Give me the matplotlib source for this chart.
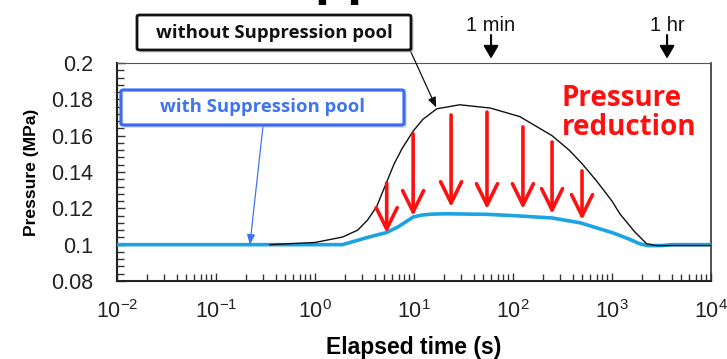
import matplotlib
matplotlib.use("Agg")
import matplotlib.pyplot as plt
from matplotlib.ticker import FixedLocator, FixedFormatter, MultipleLocator, LogLocator, NullFormatter, LogFormatterSciNotation
from matplotlib.patches import FancyBboxPatch

plt.rcParams['font.family'] = ['Liberation Sans', 'DejaVu Sans']
plt.rcParams['mathtext.fontset'] = 'custom'
plt.rcParams['mathtext.rm'] = 'Liberation Sans'
plt.rcParams['mathtext.it'] = 'Liberation Sans'
plt.rcParams['mathtext.bf'] = 'Liberation Sans:bold'

# ---- data ----
t_without = [0.35, 1.0, 1.9, 2.7, 3.4, 4.2, 5.3, 6.3, 7.6, 9.8, 12.3, 17, 29, 59, 117, 248, 370, 500, 700, 1000, 1200, 1700, 2240, 2800, 10000]
p_without = [0.100, 0.1012, 0.1042, 0.108, 0.1136, 0.121, 0.1345, 0.1445, 0.153, 0.1625, 0.169, 0.1748, 0.177, 0.1752, 0.1705, 0.160, 0.152, 0.1445, 0.135, 0.124, 0.117, 0.107, 0.1005, 0.0995, 0.0995]

t_with = [0.01, 0.1, 1.0, 1.9, 3.4, 5.3, 7, 8.5, 9.8, 12, 15, 21, 54, 100, 248, 480, 1020, 1500, 1900, 2300, 3200, 4000, 10000]
p_with = [0.100, 0.100, 0.100, 0.100, 0.104, 0.1067, 0.110, 0.113, 0.1152, 0.1163, 0.1168, 0.117, 0.1167, 0.116, 0.1147, 0.112, 0.1065, 0.103, 0.1005, 0.0995, 0.0995, 0.100, 0.100]

arrow_t = [5.3, 9.8, 23.7, 54.6, 126, 248, 498]
arrow_top = [0.134, 0.161, 0.1714, 0.173, 0.1648, 0.1565, 0.1406]
arrow_bottom = [0.1064, 0.1158, 0.1207, 0.1196, 0.1196, 0.1169, 0.1136]

marker_times = [60, 3600]
marker_labels = ['1 min', '1 hr']

x_ticks = [1e-2, 1e-1, 1e0, 1e1, 1e2, 1e3, 1e4]
y_ticks = [0.08, 0.10, 0.12, 0.14, 0.16, 0.18, 0.20]
y_ticklabels = ['0.08', '0.1', '0.12', '0.14', '0.16', '0.18', '0.2']

W, H = 727, 359
fig = plt.figure(figsize=(W / 100, H / 100), dpi=100)
fig.patch.set_facecolor('white')

def fx(px):
    return px / W

def fy(py):
    return 1 - py / H

ax = fig.add_axes([fx(117), fy(281), fx(711) - fx(117), fy(63) - fy(281)])
ax.set_xscale('log')
ax.set_xlim(1e-2, 1e4)
ax.set_ylim(0.08, 0.2)

ax.plot(t_with, p_with, color='#1ca3e3', lw=2.6, zorder=3, solid_capstyle='butt')
ax.plot(t_without, p_without, color='#111111', lw=1.0, zorder=4)

for t, top, bot in zip(arrow_t, arrow_top, arrow_bottom):
    ax.annotate('', xy=(t, bot), xytext=(t, top),
                arrowprops=dict(arrowstyle='->,head_length=0.85,head_width=0.42',
                                color='#ff1010', lw=2.6, shrinkA=0, shrinkB=0,
                                mutation_scale=18),
                zorder=5)

# ticks
ax.yaxis.set_major_locator(FixedLocator(y_ticks))
ax.yaxis.set_major_formatter(FixedFormatter(y_ticklabels))
ax.yaxis.set_minor_locator(MultipleLocator(0.004))
ax.xaxis.set_major_locator(FixedLocator(x_ticks))
ax.xaxis.set_major_formatter(LogFormatterSciNotation())
ax.xaxis.set_minor_locator(LogLocator(base=10, subs=range(2, 10), numticks=100))
ax.xaxis.set_minor_formatter(NullFormatter())
ax.tick_params(which='both', direction='in', top=False, right=False, color='#333333', width=1.0)
ax.tick_params(axis='y', which='major', length=6, pad=17, labelsize=15.5, labelcolor='#222222')
ax.tick_params(axis='y', which='minor', length=5)
ax.tick_params(axis='x', which='major', length=6, pad=14, labelsize=15.5, labelcolor='#222222')
ax.tick_params(axis='x', which='minor', length=5)

for s in ['left', 'bottom']:
    ax.spines[s].set_linewidth(1.5)
    ax.spines[s].set_color('#222222')
ax.spines['right'].set_linewidth(1.2)
ax.spines['right'].set_color('#333333')
ax.spines['top'].set_linewidth(0.8)
ax.spines['top'].set_color('#555555')
ax.spines['top'].set_linestyle((0, (2, 1)))

ax.set_xlabel('Elapsed time (s)', fontsize=16.5, fontweight='bold')
ax.set_ylabel('Pressure (MPa)', fontsize=12.6, fontweight='bold')
ax.yaxis.set_label_coords(-0.131, 0.5)
ax.xaxis.set_label_coords(0.5, -0.252)

# 1 min / 1 hr markers
for t, lab in zip(marker_times, marker_labels):
    ax.annotate('', xy=(t, 1.02), xycoords=('data', 'axes fraction'),
                xytext=(0, 17), textcoords='offset points',
                arrowprops=dict(arrowstyle='-|>,head_length=0.55,head_width=0.32',
                                color='black', lw=1.5, shrinkA=0, shrinkB=0,
                                mutation_scale=14),
                annotation_clip=False)
    ax.annotate(lab, xy=(t, 1.0), xycoords=('data', 'axes fraction'),
                xytext=(0, 27), textcoords='offset points',
                ha='center', va='center', fontsize=14.5, color='#111111',
                annotation_clip=False)

# boxes
def box(x0, y0, x1, y1, ec, lw):
    shadow = FancyBboxPatch((fx(x0) + 0.004, fy(y1) - 0.008), fx(x1) - fx(x0), fy(y0) - fy(y1),
                            boxstyle='round,pad=0,rounding_size=0.004', transform=fig.transFigure,
                            fc='#bbbbbb', ec='none', alpha=0.5, zorder=9)
    fig.add_artist(shadow)
    b = FancyBboxPatch((fx(x0), fy(y1)), fx(x1) - fx(x0), fy(y0) - fy(y1),
                       boxstyle='round,pad=0,rounding_size=0.004', transform=fig.transFigure,
                       fc='white', ec=ec, lw=lw, zorder=10)
    fig.add_artist(b)

box(137, 15, 411, 50, '#111111', 2.0)
fig.text(fx(274), fy(33), 'without Suppression pool', ha='center', va='center',
         fontsize=13.3, fontweight='bold', family=['Open Sans', 'DejaVu Sans'], color='#111111', zorder=11)

box(121, 90, 404, 125, '#3b6cf2', 2.3)
fig.text(fx(263), fy(107.5), 'with Suppression pool', ha='center', va='center',
         fontsize=13.3, fontweight='bold', family=['Open Sans', 'DejaVu Sans'], color='#3f74ee', zorder=11)

# pointers from boxes
ax.annotate('', xy=(t_without[11], p_without[11]), xycoords='data',
            xytext=(fx(410), fy(50)), textcoords='figure fraction',
            arrowprops=dict(arrowstyle='-|>,head_length=0.5,head_width=0.2', color='#111111',
                            lw=0.9, shrinkA=0, shrinkB=1, mutation_scale=12),
            annotation_clip=False, zorder=8)
ax.annotate('', xy=(0.22, p_with[1]), xycoords='data',
            xytext=(fx(263), fy(126)), textcoords='figure fraction',
            arrowprops=dict(arrowstyle='-|>,head_length=0.5,head_width=0.2', color='#3f74ee',
                            lw=0.9, shrinkA=0, shrinkB=0, mutation_scale=12),
            annotation_clip=False, zorder=8)

fig.text(fx(562), fy(84), 'Pressure\nreduction', ha='left', va='top', linespacing=1.0,
         fontsize=20, fontweight='bold', family=['Open Sans', 'DejaVu Sans'], color='#ff1010')

# cropped title fragment at very top
fig.text(fx(314), fy(-6), 'pp', ha='left', va='baseline', fontsize=39, fontweight='bold', color='black')

fig.savefig('out.png', dpi=100, facecolor='white')
